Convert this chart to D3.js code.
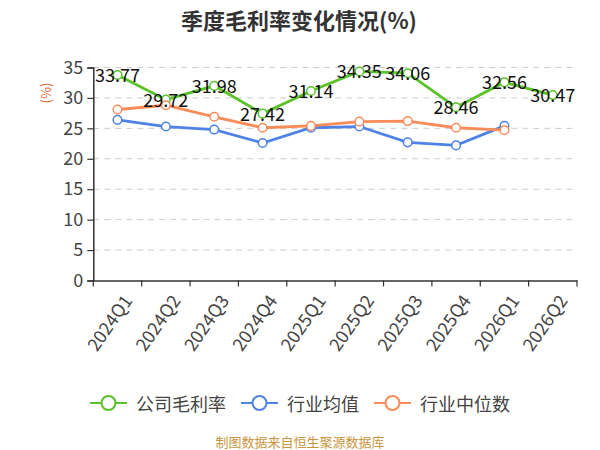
<!DOCTYPE html>
<html>
<head>
<meta charset="utf-8">
<script src="https://cdn.jsdelivr.net/npm/d3@7"></script>
<style>
  body { margin: 0; background: #fff; }
  svg text { font-family: "Noto Sans CJK SC", "Noto Sans", sans-serif; }
</style>
</head>
<body>
<div id="chart"></div>
<script>
// Quarterly gross margin data (%)
const quarters = ['2024Q1', '2024Q2', '2024Q3', '2024Q4', '2025Q1', '2025Q2', '2025Q3', '2025Q4', '2026Q1', '2026Q2'];
const companyMargin = [33.77, 29.72, 31.98, 27.42, 31.14, 34.35, 34.06, 28.46, 32.56, 30.47];
const industryMean = [26.4, 25.3, 24.8, 22.6, 25.1, 25.3, 22.7, 22.2, 25.4];
const industryMedian = [28.1, 28.8, 26.9, 25.1, 25.4, 26.1, 26.2, 25.1, 24.7];
const yTicks = [0, 5, 10, 15, 20, 25, 30, 35];

const seriesList = [
    { name: '公司毛利率', values: companyMargin, color: '#5bc22a', labels: true },
    { name: '行业均值', values: industryMean, color: '#4f82e6', labels: false },
    { name: '行业中位数', values: industryMedian, color: '#fb8c5a', labels: false }
];

const width = 600, height = 450;
const margin = {top: 67.5, right: 23, bottom: 169.5, left: 93.3};
const innerW = width - margin.left - margin.right;
const innerH = height - margin.top - margin.bottom;

const svg = d3.select("#chart").append("svg")
    .attr("width", width)
    .attr("height", height);

// Title
svg.append("text")
    .attr("x", 299)
    .attr("y", 19)
    .attr("text-anchor", "middle")
    .attr("dominant-baseline", "central")
    .style("font-size", "22px")
    .style("font-weight", "bold")
    .style("fill", "#333")
    .text("季度毛利率变化情况(%)");

const g = svg.append("g")
    .attr("transform", `translate(${margin.left},${margin.top})`);

const x = d3.scaleBand()
    .domain(quarters)
    .range([0, innerW]);

const y = d3.scaleLinear()
    .domain([0, 35])
    .range([innerH, 0]);

// Grid lines
g.selectAll(".grid")
    .data(yTicks.filter(d => d > 0))
    .enter()
    .append("line")
    .attr("x1", 0)
    .attr("x2", innerW)
    .attr("y1", d => y(d))
    .attr("y2", d => y(d))
    .attr("stroke", "#cccccc")
    .attr("stroke-width", 1)
    .attr("stroke-dasharray", "6,5");

// Y axis
const yAxis = g.append("g")
    .call(d3.axisLeft(y).tickValues(yTicks).tickSize(6).tickPadding(4));
yAxis.select(".domain").attr("stroke", "#333").attr("stroke-width", 1.5);
yAxis.selectAll(".tick line").attr("stroke", "#333").attr("stroke-width", 1.2);
yAxis.selectAll("text")
    .style("font-size", "18px")
    .style("fill", "#444");

// X axis with ticks at band boundaries
const xAxis = g.append("g")
    .attr("transform", `translate(0,${innerH})`)
    .call(d3.axisBottom(x).tickSize(0).tickPadding(8));
xAxis.select(".domain").attr("stroke", "#333").attr("stroke-width", 1.5);
xAxis.selectAll(".tick text")
    .style("font-size", "18px")
    .style("fill", "#444")
    .attr("text-anchor", "end")
    .attr("dy", "0.35em")
    .attr("transform", "translate(4,12) rotate(-55)");

const boundaries = quarters.map(q => x(q)).concat([innerW]);
g.selectAll(".xtick")
    .data(boundaries)
    .enter()
    .append("line")
    .attr("x1", d => d)
    .attr("x2", d => d)
    .attr("y1", innerH)
    .attr("y2", innerH + 6)
    .attr("stroke", "#333")
    .attr("stroke-width", 1.2);

// Y axis unit label
svg.append("text")
    .attr("transform", "translate(45,93) rotate(-90)")
    .attr("text-anchor", "middle")
    .attr("dominant-baseline", "central")
    .style("font-size", "13px")
    .style("fill", "#e8602c")
    .text("(%)");

// Lines
const line = d3.line()
    .x((d, i) => x(quarters[i]) + x.bandwidth() / 2)
    .y(d => y(d));

seriesList.forEach(s => {
    g.append("path")
        .datum(s.values)
        .attr("fill", "none")
        .attr("stroke", s.color)
        .attr("stroke-width", 2.8)
        .attr("d", line);
});

seriesList.forEach(s => {
    g.selectAll(null)
        .data(s.values)
        .enter()
        .append("circle")
        .attr("cx", (d, i) => x(quarters[i]) + x.bandwidth() / 2)
        .attr("cy", d => y(d))
        .attr("r", 4.3)
        .attr("fill", "#fff")
        .attr("stroke", s.color)
        .attr("stroke-width", 1.5);
});

// Value labels for company margin
const labelled = seriesList.filter(s => s.labels);
labelled.forEach(s => {
    g.selectAll(null)
        .data(s.values)
        .enter()
        .append("text")
        .attr("x", (d, i) => x(quarters[i]) + x.bandwidth() / 2)
        .attr("y", d => y(d) - 1)
        .attr("text-anchor", "middle")
        .attr("dominant-baseline", "central")
        .style("font-size", "18px")
        .style("fill", "#111")
        .text(d => d.toFixed(2));
});

// Legend
const legend = svg.append("g");
let cursor = 0;
seriesList.forEach((s, i) => {
    const item = legend.append("g").attr("transform", `translate(${cursor},0)`);
    item.append("line")
        .attr("x1", 0).attr("x2", 37)
        .attr("y1", 0).attr("y2", 0)
        .attr("stroke", s.color)
        .attr("stroke-width", 2);
    item.append("circle")
        .attr("cx", 18.5).attr("cy", 0).attr("r", 7)
        .attr("fill", "#fff")
        .attr("stroke", s.color)
        .attr("stroke-width", 2);
    const t = item.append("text")
        .attr("x", 46)
        .attr("y", 0)
        .attr("dominant-baseline", "central")
        .style("font-size", "18px")
        .style("fill", "#444")
        .text(s.name);
    cursor += 46 + t.node().getComputedTextLength() + 15;
});
const legendW = cursor - 15;
legend.attr("transform", `translate(${300 - legendW / 2},403)`);

// Source note
svg.append("text")
    .attr("x", 300)
    .attr("y", 441)
    .attr("text-anchor", "middle")
    .attr("dominant-baseline", "central")
    .style("font-size", "13px")
    .style("fill", "#c9963e")
    .text("制图数据来自恒生聚源数据库");
</script>
</body>
</html>
